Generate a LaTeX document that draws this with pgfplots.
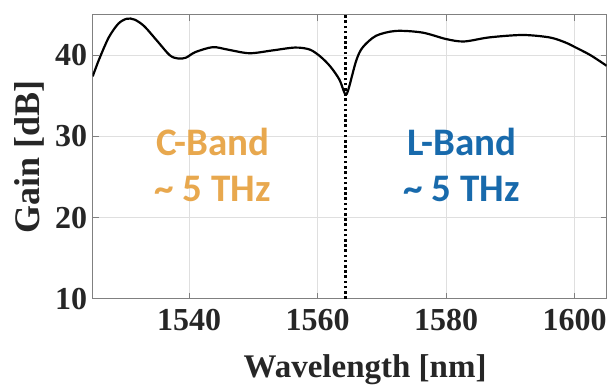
\documentclass[border=0pt]{standalone}
\usepackage{fontspec}
\setmainfont{Liberation Serif}
\newfontfamily\calfont{Carlito}
\usepackage{pgfplots}
\pgfplotsset{compat=1.18}
\definecolor{cband}{RGB}{232,168,78}
\definecolor{lband}{RGB}{24,106,172}
\definecolor{boxgray}{RGB}{128,128,128}
\begin{document}
\begin{tikzpicture}
\begin{axis}[
  name=ax,
  scale only axis,
  width=514bp, height=284bp,
  xmin=1525, xmax=1605, ymin=10, ymax=45,
  xtick={1540,1560,1580,1600},
  ytick={10,20,30,40},
  grid=major,
  major grid style={gray!25, line width=0.8pt},
  axis line style={boxgray, line width=1pt},
  tick style={boxgray, line width=0.8pt},
  tick align=inside,
  major tick length=6bp,
  /pgf/number format/assume math mode=true,
  /pgf/number format/1000 sep={},
  tick label style={font=\fontsize{32bp}{36bp}\selectfont\bfseries, text=black!85},
  xticklabel style={yshift=-7bp},
  yticklabel style={xshift=-2bp},
  label style={font=\fontsize{33bp}{38bp}\selectfont\bfseries, text=black!85},
  xlabel={Wavelength [nm]},
  ylabel={Gain [dB]},
  xlabel style={at={(axis description cs:0.53,-0.276)}, anchor=base},
  ylabel style={at={(axis description cs:-0.124,0.5)}, anchor=center, font=\fontsize{36bp}{40bp}\selectfont\bfseries},
  clip=true,
]
\addplot[black, line width=2.2pt, smooth, tension=0.5] coordinates {
(1525,37.4) (1526,39.5) (1527.5,42.2) (1529,43.9) (1530.3,44.5) (1531.5,44.4)
(1533,43.6) (1535,41.8) (1537,40.0) (1538.3,39.6) (1539.5,39.7) (1541,40.4)
(1543.7,41.0) (1546,40.7) (1549.4,40.25) (1553,40.6) (1556.5,40.95) (1558.8,40.7)
(1560.5,39.8) (1562,38.6) (1563.4,37.0) (1564.3,35.2) (1564.8,35.8) (1566,39.3)
(1567,40.95) (1569.1,42.4) (1572.2,43.0) (1576.3,42.8) (1580,42.0) (1582.8,41.7)
(1586.7,42.2) (1591.9,42.5) (1596.1,42.2) (1598.5,41.6) (1600.2,40.95) (1602.5,40.0)
(1605,38.7)
};
\addplot[black, line width=2.8bp, dash pattern=on 2.6bp off 2.6bp] coordinates {(1564.35,10) (1564.35,45)};
\node[anchor=base, text=cband, font=\calfont\fontsize{39bp}{44bp}\selectfont\bfseries] at (axis cs:1543.7,27.7) {C-Band};
\node[anchor=base, text=cband, font=\calfont\fontsize{39bp}{44bp}\selectfont\bfseries] at (axis cs:1543.7,21.95) {\~{} 5 THz};
\node[anchor=base, text=lband, font=\calfont\fontsize{39bp}{44bp}\selectfont\bfseries] at (axis cs:1582.45,27.7) {L-Band};
\node[anchor=base, text=lband, font=\calfont\fontsize{39bp}{44bp}\selectfont\bfseries] at (axis cs:1582.45,21.95) {\~{} 5 THz};
\end{axis}
\pgfresetboundingbox
\path (ax.south west) ++(-92.7bp,-90.3bp) rectangle ++(611bp,389bp);
\end{tikzpicture}
\end{document}
